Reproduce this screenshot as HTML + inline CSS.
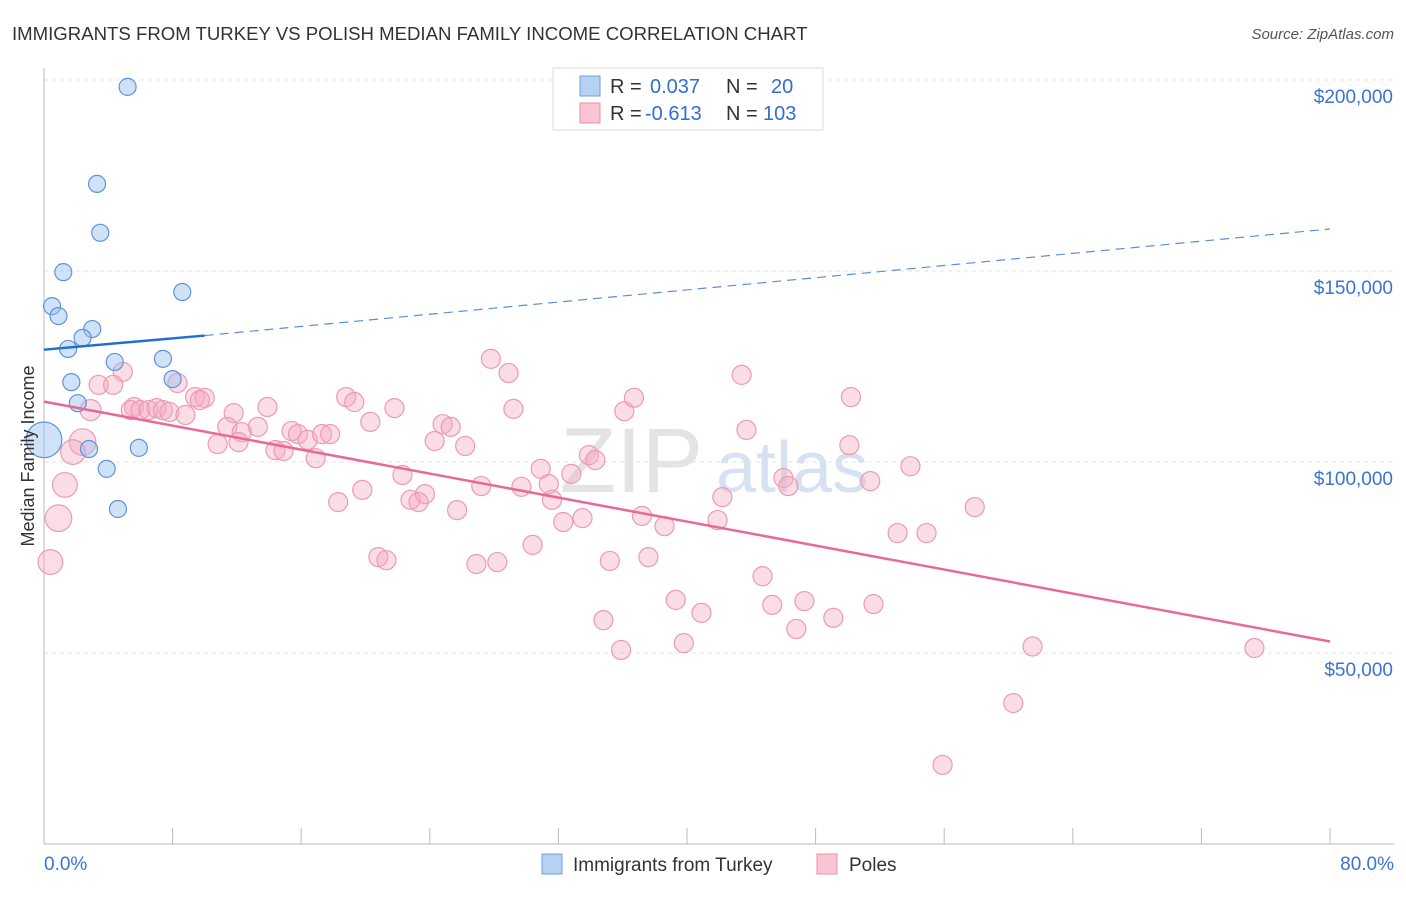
<!DOCTYPE html>
<html><head><meta charset="utf-8">
<style>
body{margin:0;background:#fff;font-family:"Liberation Sans",sans-serif;}
svg text{font-family:"Liberation Sans",sans-serif;}
</style></head>
<body>
<svg id="chart" width="1406" height="892">
<text x="12" y="40" font-size="18.6" fill="#333">IMMIGRANTS FROM TURKEY VS POLISH MEDIAN FAMILY INCOME CORRELATION CHART</text>
<text x="1394" y="39" font-size="15" fill="#555" font-style="italic" text-anchor="end">Source: ZipAtlas.com</text>
<text x="560" y="492" font-size="92" fill="#e4e4e4" font-family="Liberation Serif">ZIP</text>
<text x="716" y="492" font-size="72" fill="#d6e2f2">atlas</text>
<g id="grid"></g>
<g id="axes"></g>
<g id="pts"></g>
<g id="lines"></g>
<text transform="translate(34,456) rotate(-90)" font-size="18" fill="#333" text-anchor="middle">Median Family Income</text>
<g>
<rect x="553" y="68" width="270" height="62" fill="#fff" stroke="#ddd"/>
<rect x="580" y="76" width="20" height="20" fill="#b7d1f3" stroke="#6d9ee0"/>
<rect x="580" y="103" width="20" height="20" fill="#f9c5d3" stroke="#ea8fab"/>
<text y="93" font-size="20" fill="#333"><tspan x="610">R =</tspan><tspan x="650" fill="#2f6fd0">0.037</tspan><tspan x="726">N =</tspan><tspan x="771" fill="#2f6fd0">20</tspan></text>
<text y="120" font-size="20" fill="#333"><tspan x="610">R =</tspan><tspan x="645" fill="#2f6fd0">-0.613</tspan><tspan x="726">N =</tspan><tspan x="763" fill="#2f6fd0">103</tspan></text>
</g>
<g>
<rect x="542" y="854" width="20" height="20" fill="#b7d1f3" stroke="#6d9ee0"/>
<text x="573" y="871" font-size="19" fill="#333">Immigrants from Turkey</text>
<rect x="817" y="854" width="20" height="20" fill="#f9c5d3" stroke="#ea8fab"/>
<text x="849" y="871" font-size="19" fill="#333">Poles</text>
</g>
</svg>
<script>
const yTicks=[50000,100000,150000,200000];
const yTickLabels=["$50,000","$100,000","$150,000","$200,000"];
const xTickLabels=["0.0%","80.0%"];
const blueX=[5.2,3.3,3.5,1.2,0.5,0.9,3.0,2.4,1.5,8.6,4.4,7.4,8.0,1.7,2.1,0,2.8,5.9,3.9,4.6];
const blueY=[198200,172800,160000,149700,140800,138200,134800,132500,129600,144500,126200,127000,121700,120900,115400,105800,103400,103700,98200,87700];
const blueW=[1,1,1,1,1,1,1,1,1,1,1,1,1,1,1,2.1,1,1,1,1];
const pinkX=[4.9,3.4,4.3,8.3,5.6,2.9,5.4,6.0,6.5,7.0,7.4,7.8,8.8,9.4,10.0,9.7,11.8,13.9,11.4,13.3,12.3,10.8,12.1,14.4,14.9,15.4,15.8,16.4,16.9,17.3,17.8,18.8,19.3,20.3,21.8,24.8,25.3,24.3,26.2,27.8,28.9,29.2,18.3,19.8,22.3,22.8,23.3,23.7,25.7,27.2,29.7,30.9,31.4,31.6,32.8,33.9,34.3,33.5,32.3,30.4,20.8,21.3,26.9,28.2,35.2,37.6,36.1,36.7,37.2,38.6,34.8,35.9,39.3,39.8,40.9,42.2,41.9,43.4,43.7,44.7,45.3,46.0,46.3,46.8,47.3,49.1,50.2,50.1,51.4,51.6,53.1,53.9,54.9,57.9,61.5,60.3,55.9,75.3,2.4,1.8,1.3,0.9,0.4];
const pinkY=[123600,120200,120200,120700,114400,113600,113600,113600,113600,114100,113600,113100,112300,117000,116800,116200,112800,114400,109200,109200,107800,104700,105200,103100,102900,108100,107300,105800,101000,107300,107300,117000,115700,110500,114100,109900,109200,105500,104200,127000,123300,113900,89500,92700,96600,90100,89500,91600,87400,93700,93500,98200,94200,90100,96900,101800,100500,85300,84300,78300,75100,74300,73300,73800,74100,75100,113300,116800,85900,83200,58600,50800,63900,52600,60500,90800,84800,122800,108400,70100,62600,95800,93700,56300,63600,59200,117000,104400,95000,62800,81400,98900,81400,88200,51700,36900,20700,51300,105200,102600,94000,85300,73800];
const pinkW=[1,1,1,1,1,1.1,1,1,1,1,1,1,1,1,1,1,1,1,1,1,1,1,1,1,1,1,1,1,1,1,1,1,1,1,1,1,1,1,1,1,1,1,1,1,1,1,1,1,1,1,1,1,1,1,1,1,1,1,1,1,1,1,1,1,1,1,1,1,1,1,1,1,1,1,1,1,1,1,1,1,1,1,1,1,1,1,1,1,1,1,1,1,1,1,1,1,1,1,1.4,1.3,1.3,1.4,1.3];
const blueTrend=[[0,129400],[10,133100],[80,161000]];
const pinkTrend=[[0,115800],[80,53000]];
const NS="http://www.w3.org/2000/svg";
const X=v=>44+v/80*1286;
const Y=v=>80+(200000-v)/50000*191;
function mk(tag,attrs,parent){const e=document.createElementNS(NS,tag);for(const k in attrs)e.setAttribute(k,attrs[k]);parent.appendChild(e);return e;}
const grid=document.getElementById('grid'),axes=document.getElementById('axes'),pts=document.getElementById('pts'),lines=document.getElementById('lines');
yTicks.forEach((t,i)=>{
 const l=mk('line',{x1:44,x2:1394,y1:Y(t),y2:Y(t),stroke:'#e3e3e3','stroke-dasharray':'4,4'},grid);
 
 
 const tx=mk('text',{x:1393,y:Y(t)+23,'font-size':19,fill:'#3a74d0','text-anchor':'end'},axes);
 tx.textContent=yTickLabels[i];
 
 
});
const ya=mk('line',{x1:44,x2:44,y1:68,y2:Y(0),stroke:'#bbb'},axes);


const xa=mk('line',{x1:44,x2:1394,y1:Y(0),y2:Y(0),stroke:'#bbb'},axes);


for(let i=0;i<=10;i++){
 const t=mk('line',{x1:X(i*8),x2:X(i*8),y1:Y(0),y2:Y(0)-16,stroke:'#bbb'},axes);
 
 
}
[[0,'start',44],[80,'end',1394]].forEach((d,i)=>{
 const tx=mk('text',{x:d[2],y:870,'font-size':19,fill:'#3a74d0','text-anchor':d[1]},axes);
 tx.textContent=xTickLabels[i];
 
 
});
pinkX.forEach((v,i)=>{
 const c=mk('circle',{cx:X(v),cy:Y(pinkY[i]),r:9.5*pinkW[i],fill:'rgba(246,170,192,0.4)',stroke:'#ec9ab3','stroke-width':1.2},pts);
 
 
});
blueX.forEach((v,i)=>{
 const c=mk('circle',{cx:X(v),cy:Y(blueY[i]),r:8.5*blueW[i],fill:'rgba(150,190,240,0.45)',stroke:'#5c93dc','stroke-width':1.2},pts);
 
 
});
const b1=mk('line',{x1:X(blueTrend[0][0]),y1:Y(blueTrend[0][1]),x2:X(blueTrend[1][0]),y2:Y(blueTrend[1][1]),stroke:'#1f6fd1','stroke-width':2.5},lines);


const b2=mk('line',{x1:X(blueTrend[1][0]),y1:Y(blueTrend[1][1]),x2:X(blueTrend[2][0]),y2:Y(blueTrend[2][1]),stroke:'#5c8fd6','stroke-width':1.2,'stroke-dasharray':'9,6'},lines);


const p1=mk('line',{x1:X(pinkTrend[0][0]),y1:Y(pinkTrend[0][1]),x2:X(pinkTrend[1][0]),y2:Y(pinkTrend[1][1]),stroke:'#e8689a','stroke-width':2.5},lines);


</script>
</body></html>
